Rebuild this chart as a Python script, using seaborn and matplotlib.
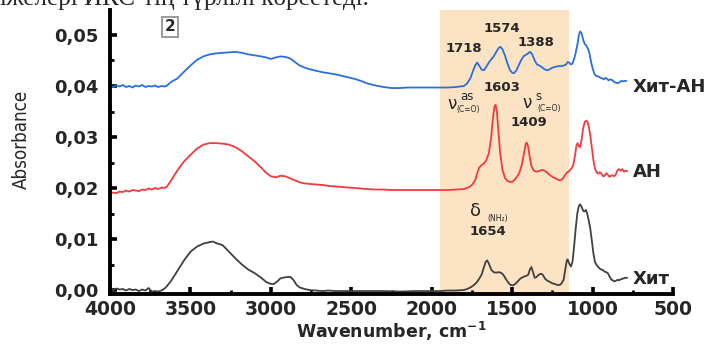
import matplotlib
matplotlib.use("Agg")
import matplotlib.pyplot as plt
import seaborn as sns
import pandas as pd
from matplotlib.ticker import MultipleLocator, FuncFormatter

# ---------------- data ----------------
wn_base = [4000, 3980, 3960, 3940, 3920, 3900, 3880, 3860, 3840, 3820, 3800, 3780, 3760,
           3740, 3720, 3700, 3680, 3660, 3645, 3620, 3580, 3540, 3500, 3460, 3420, 3380,
           3340, 3300, 3260, 3220, 3180, 3140, 3100, 3060, 3030, 3000, 2970, 2940, 2910,
           2880, 2850, 2820, 2790, 2760, 2720, 2680, 2640, 2600, 2560, 2520, 2480, 2440,
           2400, 2350, 2300, 2250, 2200, 2150, 2100, 2050, 2000, 1950, 1900, 1850, 1800]

# Хит-АН (blue)
wn_hitan = wn_base + [1780, 1760, 1745, 1730, 1718, 1705, 1690, 1675, 1660, 1645, 1630, 1615,
                      1600, 1585, 1574, 1560, 1545, 1530, 1515, 1500, 1490, 1475, 1460, 1445,
                      1430, 1415, 1400, 1388, 1375, 1360, 1345, 1330, 1315, 1300, 1285, 1270,
                      1255, 1240, 1225, 1210, 1195, 1180, 1165, 1155, 1145, 1135, 1125, 1110,
                      1095, 1085, 1077, 1068, 1058, 1048, 1040, 1030, 1020, 1010, 1000, 990,
                      980, 970, 960, 950, 940, 930, 920, 910, 900, 890, 880, 870, 860, 850,
                      840, 830, 820, 810, 800, 790]
abs_hitan = [0.0400, 0.0398, 0.0401, 0.0399, 0.0402, 0.0398, 0.0400, 0.0397, 0.0401, 0.0399,
             0.0402, 0.0398, 0.0400, 0.0399, 0.0401, 0.0398, 0.0400, 0.0399, 0.0401, 0.0408,
             0.0415, 0.0428, 0.0440, 0.0451, 0.0458, 0.0462, 0.0464, 0.0465, 0.0466, 0.0467,
             0.0465, 0.0462, 0.0460, 0.0458, 0.0456, 0.0453, 0.0456, 0.0458, 0.0457, 0.0454,
             0.0447, 0.0440, 0.0436, 0.0433, 0.0430, 0.0427, 0.0425, 0.0423, 0.0420, 0.0417,
             0.0414, 0.0410, 0.0405, 0.0401, 0.0398, 0.0396, 0.0396, 0.0397, 0.0397, 0.0397,
             0.0397, 0.0397, 0.0397, 0.0398, 0.0400,
             0.0405, 0.0415, 0.0428, 0.0440, 0.0446, 0.0440, 0.0432, 0.0431, 0.0438, 0.0446,
             0.0452, 0.0458, 0.0466, 0.0474, 0.0477, 0.0472, 0.0460, 0.0445, 0.0432, 0.0426,
             0.0425, 0.0430, 0.0440, 0.0450, 0.0458, 0.0461, 0.0464, 0.0467, 0.0462, 0.0450,
             0.0442, 0.0440, 0.0437, 0.0433, 0.0431, 0.0432, 0.0435, 0.0437, 0.0438, 0.0439,
             0.0439, 0.0440, 0.0442, 0.0447, 0.0446, 0.0442, 0.0444, 0.0458, 0.0480, 0.0500,
             0.0507, 0.0503, 0.0490, 0.0482, 0.0480, 0.0474, 0.0465, 0.0448, 0.0435, 0.0425,
             0.0420, 0.0419, 0.0418, 0.0416, 0.0415, 0.0413, 0.0416, 0.0414, 0.0411, 0.0413,
             0.0412, 0.0409, 0.0407, 0.0406, 0.0406, 0.0408, 0.0410, 0.0409, 0.0410, 0.0410]

# АН (red)
wn_an = wn_base + [1780, 1760, 1745, 1730, 1718, 1705, 1690, 1675, 1660, 1645, 1630, 1620,
                   1610, 1603, 1595, 1585, 1575, 1560, 1545, 1530, 1515, 1500, 1485, 1470,
                   1455, 1440, 1425, 1415, 1409, 1400, 1390, 1380, 1365, 1350, 1335, 1320,
                   1305, 1290, 1275, 1260, 1245, 1230, 1215, 1200, 1185, 1170, 1160, 1150,
                   1140, 1130, 1120, 1110, 1100, 1093, 1085, 1077, 1068, 1058, 1048, 1040,
                   1032, 1025, 1015, 1005, 995, 985, 975, 965, 955, 945, 935, 925, 915, 905,
                   895, 885, 875, 865, 855, 845, 835, 825, 815, 805, 795, 785]
abs_an = [0.0190, 0.0191, 0.0190, 0.0193, 0.0192, 0.0195, 0.0193, 0.0196, 0.0195, 0.0194,
          0.0197, 0.0196, 0.0199, 0.0197, 0.0200, 0.0198, 0.0201, 0.0200, 0.0203, 0.0215,
          0.0235, 0.0252, 0.0265, 0.0277, 0.0285, 0.0288, 0.0288, 0.0287, 0.0285, 0.0280,
          0.0272, 0.0262, 0.0252, 0.0240, 0.0230, 0.0223, 0.0221, 0.0224, 0.0223, 0.0219,
          0.0215, 0.0211, 0.0209, 0.0208, 0.0207, 0.0206, 0.0204, 0.0203, 0.0202, 0.0201,
          0.0200, 0.0199, 0.0198, 0.0197, 0.0197, 0.0196, 0.0196, 0.0196, 0.0196, 0.0196,
          0.0196, 0.0196, 0.0196, 0.0197, 0.0198,
          0.0200, 0.0203, 0.0208, 0.0215, 0.0228, 0.0240, 0.0245, 0.0248, 0.0255, 0.0268,
          0.0300, 0.0335, 0.0360, 0.0363, 0.0350, 0.0310, 0.0270, 0.0235, 0.0220, 0.0214,
          0.0212, 0.0212, 0.0216, 0.0222, 0.0230, 0.0245, 0.0270, 0.0287, 0.0289, 0.0280,
          0.0260, 0.0243, 0.0234, 0.0232, 0.0233, 0.0235, 0.0235, 0.0232, 0.0228, 0.0224,
          0.0221, 0.0219, 0.0216, 0.0215, 0.0218, 0.0226, 0.0230, 0.0232, 0.0235, 0.0239,
          0.0245, 0.0262, 0.0284, 0.0288, 0.0282, 0.0280, 0.0295, 0.0318, 0.0330, 0.0332,
          0.0330, 0.0322, 0.0305, 0.0280, 0.0255, 0.0238, 0.0231, 0.0228, 0.0231, 0.0228,
          0.0223, 0.0224, 0.0229, 0.0226, 0.0222, 0.0224, 0.0225, 0.0223, 0.0227, 0.0235,
          0.0237, 0.0234, 0.0237, 0.0232, 0.0234, 0.0233]

# Хит (dark grey)
wn_hit = [4000, 3980, 3960, 3940, 3920, 3900, 3880, 3860, 3840, 3820, 3800, 3780, 3760,
          3740, 3720, 3700, 3680, 3660, 3645, 3620, 3580, 3540, 3500, 3460, 3420, 3380,
          3360, 3340, 3300, 3260, 3220, 3180, 3140, 3100, 3060, 3030, 3000, 2980, 2960,
          2940, 2910, 2880, 2860, 2840, 2820, 2790, 2760, 2720, 2680, 2640, 2600, 2500,
          2400, 2300, 2200, 2100, 2000, 1950, 1900, 1850, 1800, 1780, 1760, 1745, 1730,
          1718, 1705, 1690, 1675, 1665, 1655, 1645, 1630, 1615, 1600, 1585, 1570, 1555,
          1540, 1525, 1510, 1495, 1480, 1465, 1450, 1435, 1420, 1410, 1400, 1390, 1380,
          1370, 1360, 1350, 1335, 1320, 1310, 1295, 1280, 1265, 1250, 1235, 1220, 1205,
          1195, 1180, 1170, 1160, 1155, 1145, 1135, 1125, 1115, 1105, 1095, 1085, 1077,
          1068, 1058, 1050, 1042, 1035, 1025, 1015, 1005, 995, 985, 975, 965, 955, 945,
          935, 925, 915, 905, 895, 885, 875, 865, 855, 845, 835, 825, 815, 805, 795, 785]
abs_hit = [0.0002, 0.0000, 0.0003, 0.0001, 0.0002, -0.0001, 0.0002, 0.0000, 0.0001, -0.0002,
           0.0001, -0.0001, 0.0004, -0.0003, -0.0002, -0.0003, -0.0001, 0.0003, 0.0008,
           0.0018, 0.0038, 0.0058, 0.0075, 0.0085, 0.0091, 0.0094, 0.0095, 0.0092, 0.0088,
           0.0075, 0.0062, 0.0050, 0.0040, 0.0033, 0.0024, 0.0016, 0.0012, 0.0012, 0.0017,
           0.0023, 0.0025, 0.0026, 0.0020, 0.0010, 0.0005, 0.0002, 0.0000, -0.0001, -0.0002,
           -0.0001, -0.0002, -0.0002, -0.0002, -0.0002, -0.0003, -0.0002, -0.0002, -0.0002,
           -0.0001, -0.0001, 0.0000, 0.0002, 0.0005, 0.0008, 0.0012,
           0.0016, 0.0022, 0.0030, 0.0045, 0.0055, 0.0058, 0.0052, 0.0040, 0.0035, 0.0034,
           0.0035, 0.0034, 0.0030, 0.0022, 0.0015, 0.0010, 0.0009, 0.0012, 0.0017, 0.0022,
           0.0025, 0.0027, 0.0028, 0.0030, 0.0040, 0.0045, 0.0035, 0.0024, 0.0025, 0.0030,
           0.0032, 0.0030, 0.0022, 0.0018, 0.0016, 0.0013, 0.0012, 0.0010, 0.0010, 0.0012,
           0.0020, 0.0040, 0.0058, 0.0060, 0.0052, 0.0046, 0.0055, 0.0085, 0.0120, 0.0150,
           0.0165, 0.0168, 0.0163, 0.0155, 0.0154, 0.0157, 0.0152, 0.0138, 0.0122, 0.0098,
           0.0072, 0.0055, 0.0049, 0.0045, 0.0042, 0.0040, 0.0039, 0.0036, 0.0035, 0.0033,
           0.0027, 0.0021, 0.0019, 0.0017, 0.0018, 0.0020, 0.0019, 0.0021, 0.0022, 0.0023,
           0.0024, 0.0024]

series_names = ["Хит-АН", "АН", "Хит"]
series_colors = ["#2b6ee0", "#f23a3f", "#404040"]
peak_labels = ["1718", "1574", "1388", "1603", "1409", "1654"]
xticks = [4000, 3500, 3000, 2500, 2000, 1500, 1000, 500]

# ---------------- figure ----------------
sns.set_style("ticks")
plt.rcParams["font.family"] = ["DejaVu Sans"]
plt.rcParams["axes.grid"] = False

fig = plt.figure(figsize=(7.16, 3.44), dpi=100)
ax = fig.add_axes([110 / 716, 1 - 294 / 344, 563 / 716, 284 / 344])
ax.grid(False)

ax.axvspan(1950, 1145, color="#fce3c4", zorder=0, lw=0)

frames = []
for name, w, a in zip(series_names, [wn_hitan, wn_an, wn_hit], [abs_hitan, abs_an, abs_hit]):
    frames.append(pd.DataFrame({"wn": w, "abs": a, "sample": name}))
df = pd.concat(frames, ignore_index=True)

sns.lineplot(data=df, x="wn", y="abs", hue="sample", palette=dict(zip(series_names, series_colors)),
             sort=False, estimator=None, lw=1.3, legend=False, ax=ax, zorder=2)
ax.grid(False)

ax.set_xlim(4000, 500)
ax.set_ylim(-0.00078, 0.0549)
ax.set_xticks(xticks)
ax.xaxis.set_minor_locator(MultipleLocator(250))
ax.yaxis.set_major_locator(MultipleLocator(0.01))
ax.yaxis.set_minor_locator(MultipleLocator(0.005))
ax.yaxis.set_major_formatter(FuncFormatter(lambda v, p: f"{v:.2f}".replace(".", ",")))

for s in ["top", "right"]:
    ax.spines[s].set_visible(False)
for s in ["left", "bottom"]:
    ax.spines[s].set_linewidth(2.8)
    ax.spines[s].set_color("black")
    ax.spines[s].set_zorder(5)

ax.tick_params(which="major", direction="in", length=5, width=2.6, color="black")
ax.tick_params(which="minor", direction="in", length=3, width=2.0, color="black")
ax.tick_params(axis="y", which="major", pad=8, labelsize=13)
ax.tick_params(axis="x", which="major", pad=4, labelsize=13.5)
for lab in ax.get_xticklabels() + ax.get_yticklabels():
    lab.set_fontweight("bold")

ax.set_xlabel(r"Wavenumber, cm$^{\mathbf{-1}}$", fontsize=12.5, fontweight="bold", labelpad=1)
ax.set_ylabel("")
fig.text(21 / 716, 1 - 139 / 344, "Absorbance", rotation=90, ha="center", va="center",
         fontsize=13.5, fontstretch="condensed",
         family=["Liberation Sans Narrow", "DejaVu Sans"])

# panel number
ax.text(3627, 0.0516, "2", ha="center", va="center", fontsize=11, fontweight="bold",
        bbox=dict(boxstyle="square,pad=0.15", fc="white", ec="#8a8a8a", lw=1.2))

# peak labels
pk_pos = [(1800, 0.0473), (1563, 0.0512), (1352, 0.0486), (1563, 0.0398), (1395, 0.0329),
          (1650, 0.0114)]
for t, (x, y) in zip(peak_labels, pk_pos):
    ax.text(x, y, t, ha="center", va="center", fontsize=9.5, fontweight="bold")

# vibration labels
ax.text(1874, 0.0365, "ν", ha="center", va="center", fontsize=12)
ax.text(1781, 0.0380, "as", ha="center", va="center", fontsize=8.5)
ax.text(1775, 0.0353, "(C=O)", ha="center", va="center", fontsize=5.5)
ax.text(1408, 0.0367, "ν", ha="center", va="center", fontsize=12)
ax.text(1339, 0.0380, "s", ha="center", va="center", fontsize=8.5)
ax.text(1270, 0.0355, "(C=O)", ha="center", va="center", fontsize=5.5)
ax.text(1725, 0.0155, "δ", ha="center", va="center", fontsize=13)
ax.text(1590, 0.0141, "(NH₂)", ha="center", va="center", fontsize=5.5)

# series labels
lab_y = [0.0398, 0.0231, 0.0022]
for name, y in zip(series_names, lab_y):
    ax.text(750, y, name, ha="left", va="center", fontsize=13, fontweight="bold", clip_on=False)

# clipped line of document text above the chart (cut by the top edge as in the source)
fig.text(-0.01, 1 - 5 / 344, "нжелері ИКС-тің түрлілі көрсетеді.", ha="left", va="baseline",
         fontsize=18, family=["Liberation Serif", "DejaVu Serif"])

fig.savefig("out.png", dpi=100)
